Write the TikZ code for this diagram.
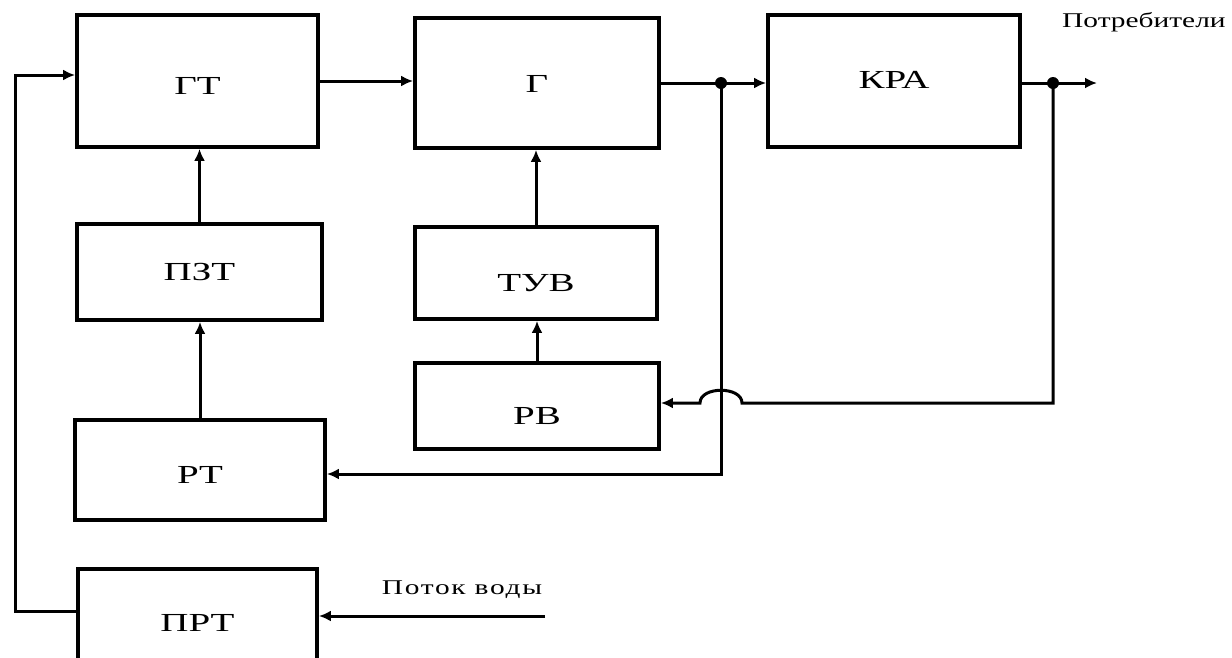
\documentclass[tikz,border=0pt]{standalone}
\usepackage{fontspec}
\setmainfont{Liberation Serif}
\newfontfamily\blkfont{Liberation Serif}[FakeStretch=1.5]
\newfontfamily\lblfont{Liberation Serif}[FakeStretch=1.4]
\newfontfamily\wfont{Liberation Serif}[FakeStretch=1.4,LetterSpace=8]
\usetikzlibrary{arrows.meta}
\begin{document}
\begin{tikzpicture}[x=1pt,y=-1pt,
  blk/.style={draw=black,line width=3.8pt,rectangle,inner sep=0pt,
    text height=17pt,text depth=0pt,font=\blkfont\fontsize{26}{30}\selectfont},
  conn/.style={draw=black,line width=3pt},
  arr/.style={conn,-{Latex[length=12pt,width=11pt]}},
  lbl/.style={font=\lblfont\fontsize{21}{24}\selectfont,inner sep=0pt},
  wlbl/.style={font=\wfont\fontsize{21}{24}\selectfont,inner sep=0pt},
  dot/.style={circle,fill=black,inner sep=0pt,minimum size=12pt}]
\useasboundingbox (0,0) rectangle (1232,657);
\clip (0,0) rectangle (1232,657);
% blocks
\node[blk,minimum width=241pt,minimum height=132pt] (gt) at (197.5,81) {\raisebox{-5pt}{ГТ}};
\node[blk,minimum width=244pt,minimum height=130pt] (g) at (537,83) {\raisebox{-1pt}{Г}};
\node[blk,minimum width=252pt,minimum height=132pt] (kra) at (894,81) {\raisebox{1pt}{КРА}};
\node[blk,minimum width=245pt,minimum height=96pt] (pzt) at (199.5,272) {ПЗТ};
\node[blk,minimum width=242pt,minimum height=92pt] (tuv) at (536,273) {\raisebox{-10pt}{ТУВ}};
\node[blk,minimum width=244pt,minimum height=86pt] (rv) at (537,406) {\raisebox{-10pt}{РВ}};
\node[blk,minimum width=250pt,minimum height=100pt] (rt) at (200,470) {\raisebox{-5pt}{РТ}};
\node[blk,minimum width=239pt,minimum height=110pt] (prt) at (197.5,624) {\raisebox{1pt}{ПРТ}};
% points
\coordinate (d1) at (721,83);
\coordinate (d2) at (1053,83);
\coordinate (out) at (1097,83);
\coordinate (c1) at (721,474);
\coordinate (c2) at (1053,403);
\coordinate (h1) at (742,403);
\coordinate (h2) at (700,403);
\coordinate (l1) at (15,611);
\coordinate (l2) at (15,75);
\coordinate (w) at (545,616);
% main chain
\draw[arr] (gt.east) -- (gt.east -| g.west);
\draw[conn] (g.east |- d1) -- (d1);
\draw[arr] (d1) -- (d1 -| kra.west);
\draw[conn] (kra.east |- d2) -- (d2);
\draw[arr] (d2) -- (out);
\node[dot] (n1) at (d1) {};
\node[dot] (n2) at (d2) {};
\node[lbl,anchor=south west] (cons) at (1062,32) {Потребители};
% verticals
\draw[arr] (pzt.north) -- (pzt.north |- gt.south);
\draw[arr] (rt.north) -- (rt.north |- pzt.south);
\draw[arr] (tuv.north) -- (tuv.north |- g.south);
\draw[arr] (rv.north) -- (rv.north |- tuv.south);
% feedbacks
\draw[arr] (d1) -- (c1) -- (c1 -| rt.east);
\draw[arr] (d2) -- (c2) -- (h1) .. controls +(0,-17) and +(0,-17) .. (h2) -- (h2 -| rv.east);
\draw[arr] (prt.west |- l1) -- (l1) -- (l2) -- (l2 -| gt.west);
\draw[arr] (w) -- (w -| prt.east);
\node[wlbl] (water) at (462,590) {Поток воды};
\end{tikzpicture}
\end{document}
